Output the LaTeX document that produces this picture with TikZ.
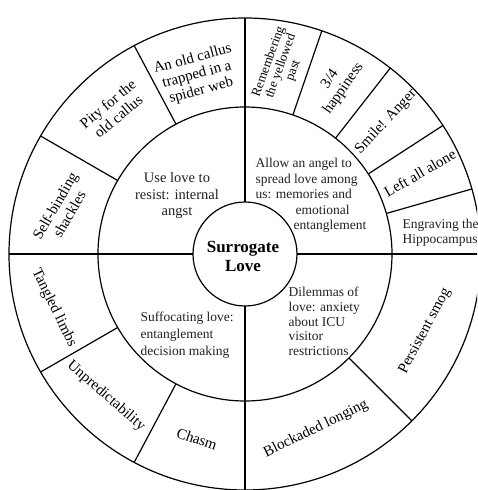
\documentclass[tikz,border=0pt]{standalone}
\usepackage{fontspec}
\setmainfont{Liberation Serif}
\usepackage{tikz}
\usetikzlibrary{positioning}
\definecolor{ink}{RGB}{34,34,26}

\begin{document}
\begin{tikzpicture}[x=1pt, y=1pt, line width=1.2pt,
			petal/.style={font=\fontsize{15}{16.5}\selectfont, align=center, inner sep=0pt},
			quad/.style={font=\fontsize{13.5}{15.5}\selectfont, text=ink, align=left, inner sep=0pt, anchor=west}]
			
			\clip (-245,-236) rectangle (232,254);
			
			% rings and cross
			\draw (0,0) circle (236);
			\draw (0,0) circle (147);
			\draw (0,0) circle (52);
			\foreach \a in {0,90,180,270} \draw (\a:52) -- (\a:236);
			\foreach \a in {16,33,52,71,118,150,210,242,315} \draw (\a:147) -- (\a:236);
			
			\node[font=\fontsize{17}{19}\selectfont\bfseries, align=center] (core) at (-2,-2) {Surrogate\\Love};
			
			% middle ring
			\node[quad, anchor=center, align=center, font=\fontsize{14.5}{16.5}\selectfont] (resist) at (-68,58) {Use love to\\resist: internal\\angst};
			\node[quad] (angel) at (10,58.5) {Allow an angel to\\spread love among\\us: memories and\\\hspace*{40pt}emotional\\\hspace*{38pt}entanglement};
			\node[quad, font=\fontsize{13.5}{17}\selectfont] (suffocate) at (-105,-81) {Suffocating love:\\entanglement\\decision making};
			\node[quad, font=\fontsize{13.5}{14.8}\selectfont] (dilemma) at (43,-67.5) {Dilemmas of\\love: anxiety\\about ICU\\visitor\\restrictions};
			
			% outer ring
			\node[petal, rotate=15] (callus) at (-48,179) {An old callus\\trapped in a\\spider web};
			\node[petal, rotate=40] (pity) at (-132,144) {Pity for the\\old callus};
			\node[petal, rotate=60] (shackles) at (-183,44) {Self-binding\\shackles};
			\node[petal, rotate=70, font=\fontsize{13}{13}\selectfont] (past) at (36,188) {Remembering\\the yellowed\\past};
			\node[petal, rotate=55] (happy) at (92,170) {3/4\\happiness};
			\node[petal, rotate=47] (anger) at (141,132) {Smile! Anger};
			\node[petal, rotate=30] (alone) at (175,81) {Left all alone};
			\node[quad, font=\fontsize{13.5}{15}\selectfont] (hippo) at (157,21.5) {Engraving the\\Hippocampus};
			\node[petal, rotate=-64] (limbs) at (-191,-54) {Tangled limbs};
			\node[petal, rotate=-41] (unpred) at (-139,-142) {Unpredictability};
			\node[petal, rotate=-19] (chasm) at (-48,-185) {Chasm};
			\node[petal, rotate=26] (longing) at (71,-175) {Blockaded longing};
			\node[petal, rotate=62] (smog) at (180,-77) {Persistent smog};
		\end{tikzpicture}
\end{document}
